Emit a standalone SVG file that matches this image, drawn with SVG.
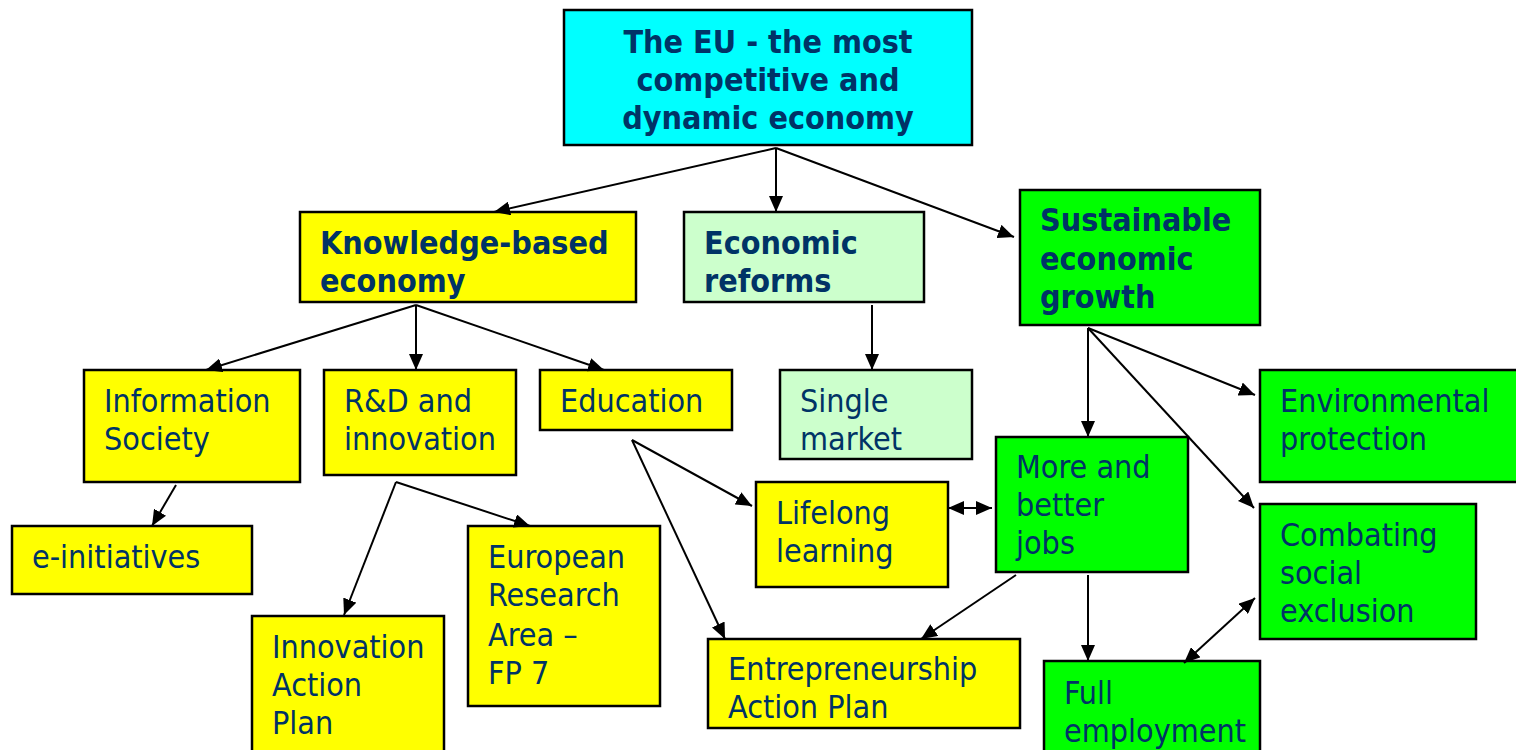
<svg xmlns="http://www.w3.org/2000/svg" width="1516" height="750" viewBox="0 0 1516 750">
<style>
.box{stroke:#000;stroke-width:2.5}
.y{fill:#FFFF00}.c{fill:#00FFFF}.lg{fill:#CCFFCC}.g{fill:#00FF00}
text{font-family:"DejaVu Sans Condensed","DejaVu Sans",sans-serif;font-stretch:condensed;font-size:32px;fill:#003366}
.b{font-weight:bold}
.conn line{stroke:#000;stroke-width:2}
</style>
<defs>
<marker id="ah" viewBox="0 0 16 14" refX="16" refY="7" markerWidth="16" markerHeight="14" markerUnits="userSpaceOnUse" orient="auto-start-reverse">
<path d="M0,0 L16,7 L0,14 z" fill="#000"/>
</marker>
</defs>
<rect width="1516" height="750" fill="#fff"/>
<g id="n-top"><rect class="box c" x="564" y="10" width="408" height="135"/>
<text class="b" x="768" y="53" text-anchor="middle">The EU - the most</text>
<text class="b" x="768" y="91" text-anchor="middle">competitive and</text>
<text class="b" x="768" y="129" text-anchor="middle">dynamic economy</text></g>
<g id="n-knowledge"><rect class="box y" x="300" y="212" width="336" height="90"/>
<text class="b" x="320" y="254">Knowledge-based</text><text class="b" x="320" y="292">economy</text></g>
<g id="n-reforms"><rect class="box lg" x="684" y="212" width="240" height="90"/>
<text class="b" x="704" y="254">Economic</text><text class="b" x="704" y="292">reforms</text></g>
<g id="n-sustainable"><rect class="box g" x="1020" y="190" width="240" height="135"/>
<text class="b" x="1040" y="231">Sustainable</text><text class="b" x="1040" y="270">economic</text><text class="b" x="1040" y="308">growth</text></g>
<g id="n-info"><rect class="box y" x="84" y="370" width="216" height="112"/>
<text x="104" y="412">Information</text><text x="104" y="450">Society</text></g>
<g id="n-rd"><rect class="box y" x="324" y="370" width="192" height="105"/>
<text x="344" y="412">R&amp;D and</text><text x="344" y="450">innovation</text></g>
<g id="n-edu"><rect class="box y" x="540" y="370" width="192" height="60"/>
<text x="560" y="412">Education</text></g>
<g id="n-single"><rect class="box lg" x="780" y="370" width="192" height="89"/>
<text x="800" y="412">Single</text><text x="800" y="450">market</text></g>
<g id="n-env"><rect class="box g" x="1260" y="370" width="260" height="112"/>
<text x="1280" y="412">Environmental</text><text x="1280" y="450">protection</text></g>
<g id="n-einit"><rect class="box y" x="12" y="526" width="240" height="68"/>
<text x="32" y="568">e-initiatives</text></g>
<g id="n-era"><rect class="box y" x="468" y="526" width="192" height="180"/>
<text x="488" y="568">European</text><text x="488" y="606">Research</text><text x="488" y="646">Area –</text><text x="488" y="684">FP 7</text></g>
<g id="n-iap"><rect class="box y" x="252" y="616" width="192" height="140"/>
<text x="272" y="658">Innovation</text><text x="272" y="696">Action</text><text x="272" y="734">Plan</text></g>
<g id="n-lifelong"><rect class="box y" x="756" y="482" width="192" height="105"/>
<text x="776" y="524">Lifelong</text><text x="776" y="562">learning</text></g>
<g id="n-jobs"><rect class="box g" x="996" y="437" width="192" height="135"/>
<text x="1016" y="478">More and</text><text x="1016" y="516">better</text><text x="1016" y="554">jobs</text></g>
<g id="n-social"><rect class="box g" x="1260" y="504" width="216" height="135"/>
<text x="1280" y="546">Combating</text><text x="1280" y="584">social</text><text x="1280" y="622">exclusion</text></g>
<g id="n-eap"><rect class="box y" x="708" y="639" width="312" height="89"/>
<text x="728" y="680">Entrepreneurship</text><text x="728" y="718">Action Plan</text></g>
<g id="n-full"><rect class="box g" x="1044" y="661" width="216" height="100"/>
<text x="1064" y="704">Full</text><text x="1064" y="742">employment</text></g>
<g class="conn">
<line x1="776" y1="148" x2="494" y2="212" marker-end="url(#ah)"/>
<line x1="776" y1="148" x2="776" y2="212" marker-end="url(#ah)"/>
<line x1="776" y1="148" x2="1014" y2="237" marker-end="url(#ah)"/>
<line x1="416" y1="305" x2="206" y2="370" marker-end="url(#ah)"/>
<line x1="416" y1="305" x2="416" y2="370" marker-end="url(#ah)"/>
<line x1="416" y1="305" x2="604" y2="370" marker-end="url(#ah)"/>
<line x1="176" y1="485" x2="152" y2="526" marker-end="url(#ah)"/>
<line x1="396" y1="482" x2="344" y2="615" marker-end="url(#ah)"/>
<line x1="396" y1="482" x2="530" y2="526" marker-end="url(#ah)"/>
<line x1="632" y1="440" x2="752" y2="506" marker-end="url(#ah)"/>
<line x1="632" y1="440" x2="725" y2="639" marker-end="url(#ah)"/>
<line x1="872" y1="305" x2="872" y2="370" marker-end="url(#ah)"/>
<line x1="948" y1="508" x2="992" y2="508" marker-start="url(#ah)" marker-end="url(#ah)"/>
<line x1="1088" y1="328" x2="1088" y2="437" marker-end="url(#ah)"/>
<line x1="1088" y1="328" x2="1255" y2="395" marker-end="url(#ah)"/>
<line x1="1088" y1="328" x2="1254" y2="508" marker-end="url(#ah)"/>
<line x1="1016" y1="575" x2="921" y2="639" marker-end="url(#ah)"/>
<line x1="1088" y1="575" x2="1088" y2="661" marker-end="url(#ah)"/>
<line x1="1255" y1="598" x2="1184" y2="663" marker-start="url(#ah)" marker-end="url(#ah)"/>
</g>
</svg>
